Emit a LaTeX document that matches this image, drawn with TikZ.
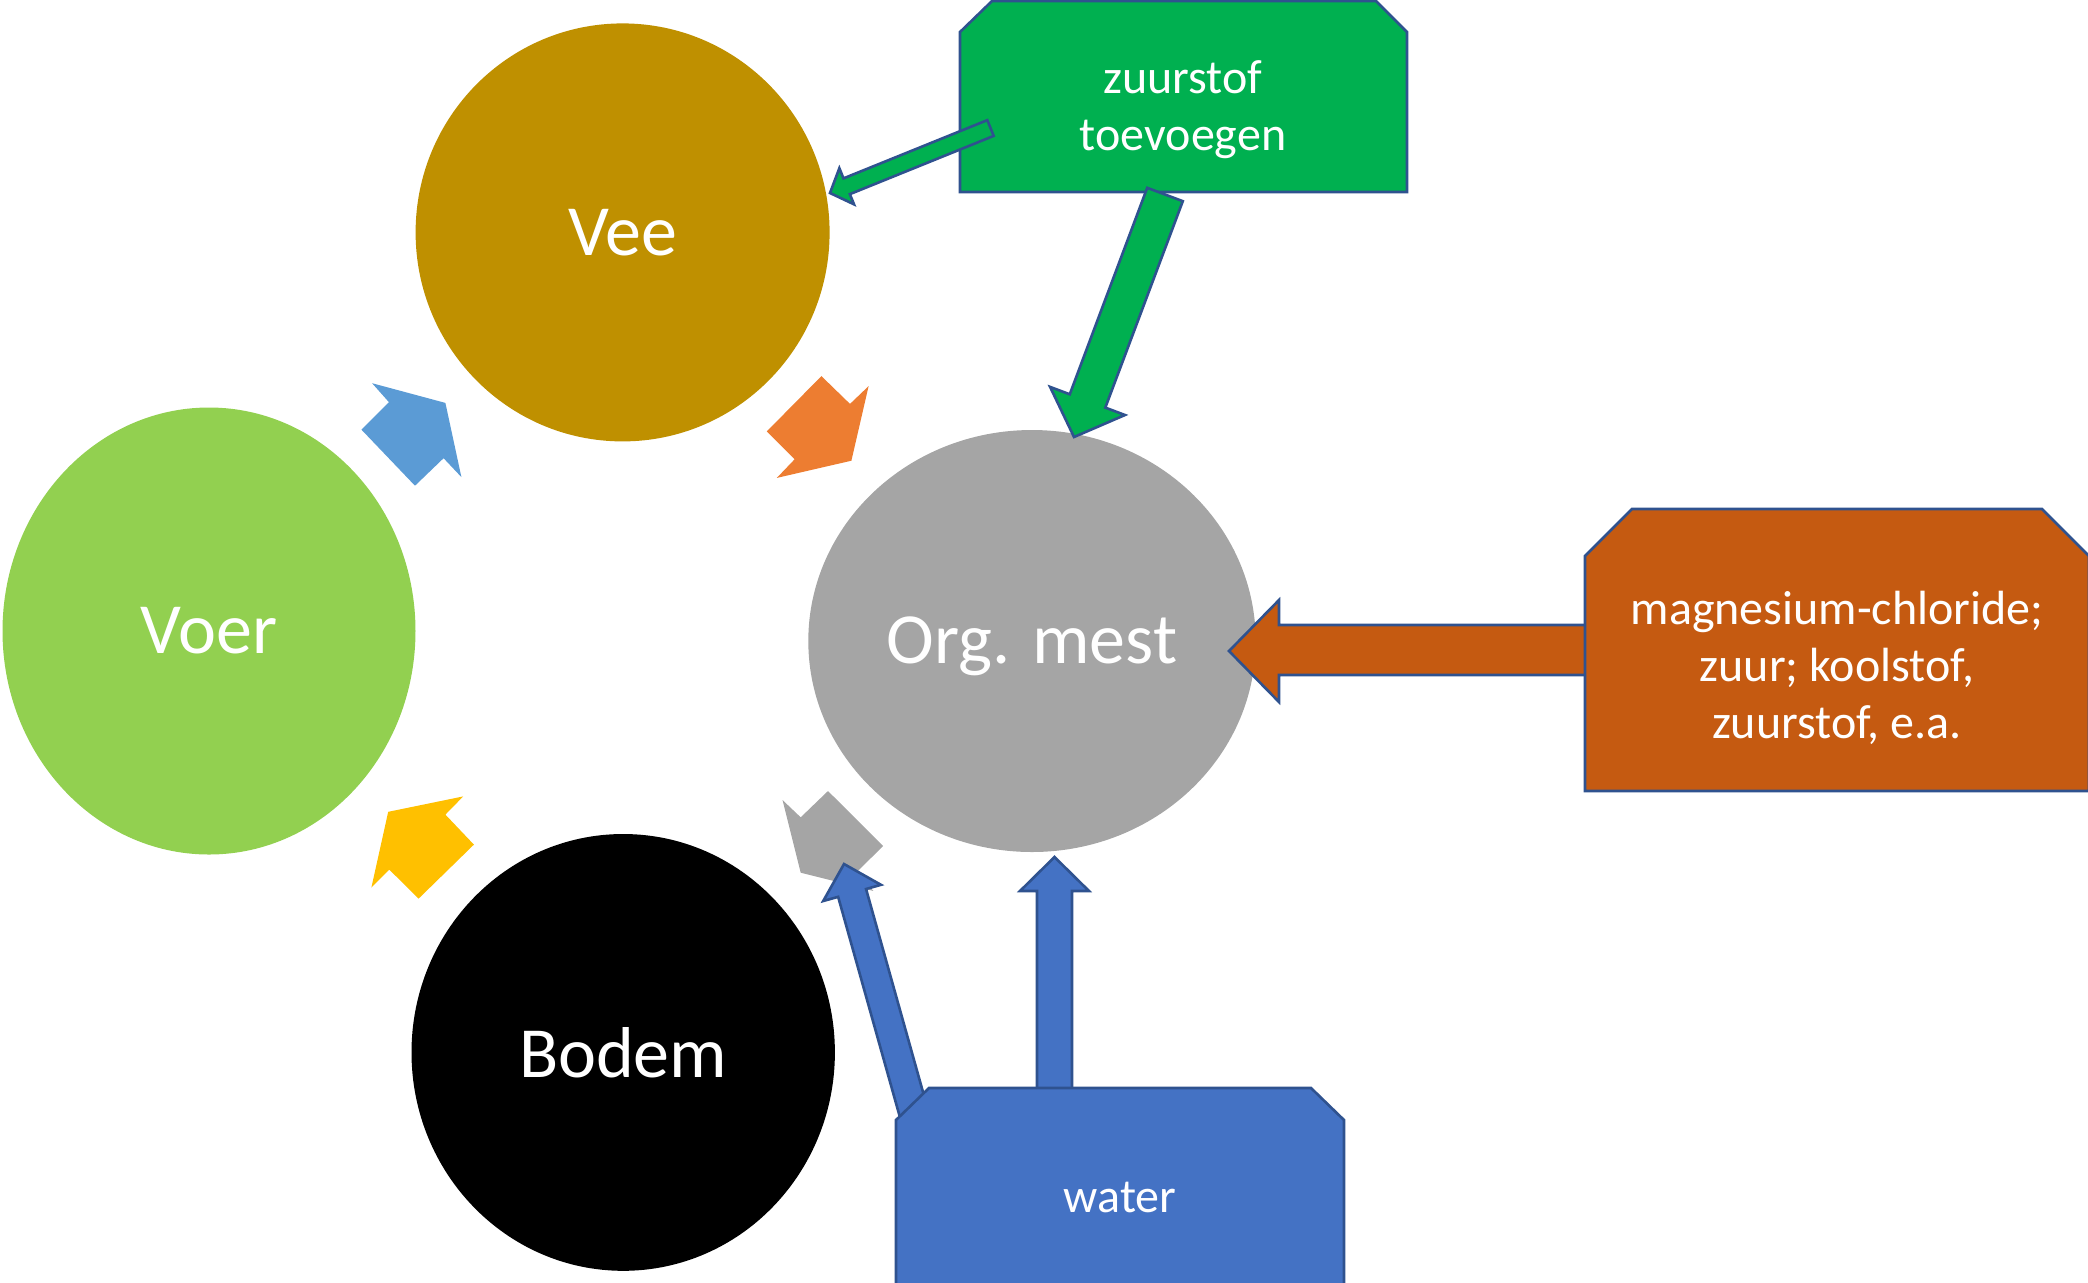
\documentclass[tikz,border=0pt]{standalone}
\usepackage{fontspec}
\setmainfont{Carlito}
\usetikzlibrary{shapes.geometric}
\definecolor{veecol}{HTML}{BF9000}
\definecolor{voercol}{HTML}{92D050}
\definecolor{mestcol}{HTML}{A5A5A5}
\definecolor{bluearr}{HTML}{5B9BD5}
\definecolor{orangearr}{HTML}{ED7D31}
\definecolor{yellowarr}{HTML}{FFC000}
\definecolor{greencol}{HTML}{00B050}
\definecolor{browncol}{HTML}{C55A11}
\definecolor{watercol}{HTML}{4472C4}
\definecolor{outcol}{HTML}{2F528F}
\begin{document}
\begin{tikzpicture}[x=0.5pt,y=-0.5pt,
  circ/.style={ellipse,inner sep=0pt,outer sep=0pt,text=white,font=\fontsize{36}{43}\selectfont},
  boxtext/.style={text=white,align=center,font=\fontsize{24}{28.5}\selectfont},
  outl/.style={draw=outcol,line width=1.3pt,line join=miter}]
\useasboundingbox (0,0) rectangle (2088,1282);

% circles
\node[circ,fill=veecol,minimum width=207pt,minimum height=209pt] (vee) at (622.6,232.4) {Vee};
\node[circ,fill=voercol,minimum width=206.5pt,minimum height=223.5pt] (voer) at (209,631) {Voer};
\node[circ,fill=mestcol,minimum width=223.7pt,minimum height=211pt] (mest) at (1032,641) {};
\node[circ] (mesttext) at (1032,646) {Org. mest};
\node[circ,fill=black,minimum width=211.7pt,minimum height=218.4pt] (bodem) at (623.2,1052.4) {Bodem};

% cycle arrows
\fill[bluearr] (372.1,383.2) -- (445.4,402.9) -- (461.4,477.1) -- (443.6,458.2) -- (415,485.7) -- (361.4,429.6) -- (388.9,402.1) -- cycle;
\fill[orangearr] (821.4,376.1) -- (850,403.9) -- (868.6,386.1) -- (851.4,460.7) -- (776.8,477.9) -- (794.6,459.3) -- (766.8,431.4) -- cycle;
\fill[yellowarr] (463.2,796.4) -- (445.4,814.6) -- (473.9,844.6) -- (418.6,898.6) -- (389.3,869.6) -- (371.4,887.5) -- (388.2,811.8) -- cycle;
\fill[mestcol] (782.5,800) -- (800.7,817.3) -- (828,791) -- (883.1,846) -- (856.1,872.7) -- (873.4,890.9) -- (800.7,872.7) -- cycle;

% green box and arrows
\path[fill=greencol,outl] (960,192) -- (960,32) -- (992,1) -- (1376,1) -- (1407,32) -- (1407,192) -- cycle;
\path[fill=greencol,outl] (993.69,135.88) -- (849.87,194.13) -- (854.00,204.32) -- (830,193) -- (839.36,168.18) -- (843.49,178.37) -- (987.31,120.12) -- cycle;
\path[fill=greencol,outl] (1182.79,201.17) -- (1105.32,407.62) -- (1124.98,415.0) -- (1074,437) -- (1050.08,386.9) -- (1069.74,394.28) -- (1147.21,187.83) -- cycle;
\node[boxtext] (zuurstof) at (1183,110) {zuurstof\\toevoegen};

% brown arrow and box
\path[fill=browncol,outl] (1590,625) -- (1279,625) -- (1279,600) -- (1229,651) -- (1279,702) -- (1279,675) -- (1590,675) -- cycle;
\path[fill=browncol,outl] (1585,791) -- (1585,556) -- (1632,509) -- (2042,509) -- (2089,556) -- (2089,791) -- cycle;
\node[boxtext] (additieven) at (1837,667.5) {magnesium-chloride;\\zuur; koolstof,\\zuurstof, e.a.};

% water arrows and box
\path[fill=watercol,outl] (928.16,1110.49) -- (866.06,888.99) -- (880.99,884.8) -- (844,864) -- (823.21,901.0) -- (838.14,896.82) -- (900.24,1118.32) -- cycle;
\path[fill=watercol,outl] (1037,1095) -- (1037,891) -- (1020,891) -- (1054.5,857) -- (1089,891) -- (1072,891) -- (1072,1095) -- cycle;
\path[fill=watercol,outl] (896,1292) -- (896,1120) -- (929,1088) -- (1311,1088) -- (1344,1120) -- (1344,1292) -- cycle;
\node[boxtext] (water) at (1120,1197) {water};
\end{tikzpicture}
\end{document}
